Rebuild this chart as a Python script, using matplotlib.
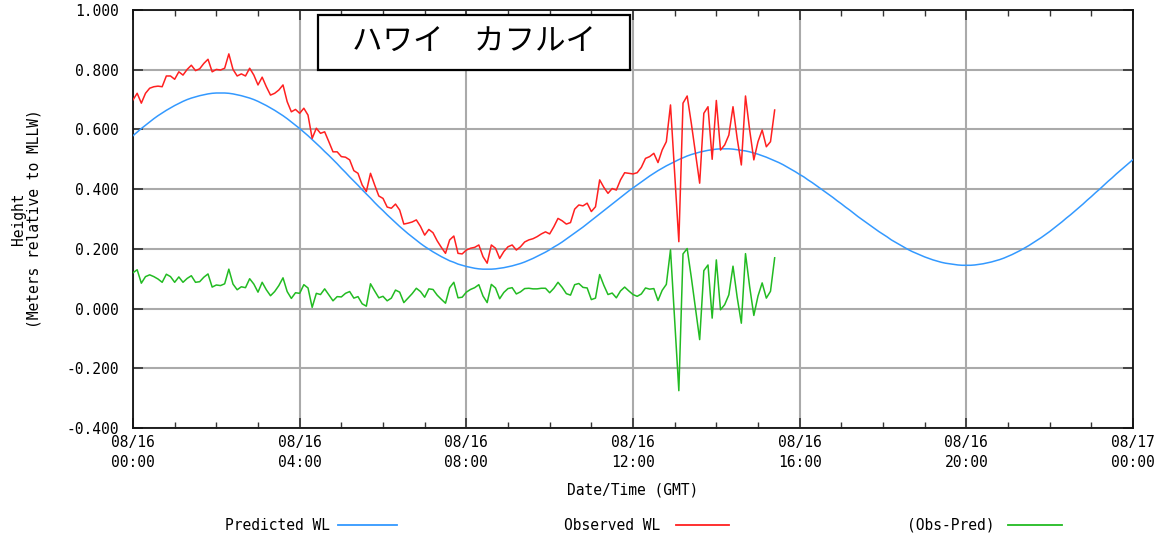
import matplotlib
matplotlib.use("Agg")
import matplotlib.pyplot as plt
import numpy as np
from matplotlib.lines import Line2D
from matplotlib.patches import Rectangle
from matplotlib.ticker import MultipleLocator, FormatStrFormatter

# 6-minute samples starting 08/16 00:00 GMT
step_h = 0.1

predicted = np.array([
    0.579, 0.591, 0.603, 0.614, 0.625, 0.636, 0.646, 0.655, 0.664, 0.672, 0.680,
    0.687, 0.694, 0.700, 0.705, 0.709, 0.713, 0.716, 0.719, 0.721, 0.722,
    0.722, 0.722, 0.721, 0.719, 0.716, 0.713, 0.709, 0.705, 0.700, 0.694,
    0.687, 0.680, 0.672, 0.664, 0.655, 0.646, 0.636, 0.625, 0.614, 0.603,
    0.591, 0.579, 0.566, 0.553, 0.540, 0.526, 0.513, 0.499, 0.485, 0.470,
    0.456, 0.441, 0.427, 0.413, 0.398, 0.384, 0.370, 0.355, 0.341, 0.328,
    0.314, 0.301, 0.288, 0.275, 0.263, 0.251, 0.240, 0.229, 0.218, 0.208,
    0.199, 0.190, 0.182, 0.174, 0.167, 0.160, 0.155, 0.149, 0.145, 0.141,
    0.138, 0.135, 0.133, 0.132, 0.132, 0.132, 0.133, 0.135, 0.137, 0.140,
    0.143, 0.147, 0.151, 0.156, 0.162, 0.168, 0.175, 0.182, 0.189, 0.197,
    0.206, 0.214, 0.223, 0.233, 0.243, 0.253, 0.263, 0.273, 0.284, 0.295,
    0.306, 0.317, 0.328, 0.339, 0.350, 0.361, 0.372, 0.383, 0.394, 0.404,
    0.414, 0.424, 0.434, 0.444, 0.453, 0.462, 0.470, 0.478, 0.485, 0.492,
    0.499, 0.505, 0.511, 0.516, 0.520, 0.524, 0.527, 0.530, 0.532, 0.534,
    0.535, 0.535, 0.535, 0.534, 0.532, 0.530, 0.528, 0.525, 0.521, 0.517,
    0.512, 0.507, 0.501, 0.495, 0.489, 0.482, 0.474, 0.466, 0.458, 0.449,
    0.441, 0.431, 0.422, 0.412, 0.402, 0.392, 0.382, 0.372, 0.361, 0.351,
    0.340, 0.330, 0.319, 0.308, 0.298, 0.288, 0.278, 0.268, 0.258, 0.249,
    0.240, 0.230, 0.222, 0.214, 0.206, 0.198, 0.191, 0.185, 0.179, 0.173,
    0.168, 0.163, 0.159, 0.155, 0.152, 0.150, 0.148, 0.146, 0.145, 0.145,
    0.145, 0.146, 0.148, 0.150, 0.153, 0.156, 0.160, 0.164, 0.169, 0.175,
    0.181, 0.188, 0.195, 0.203, 0.211, 0.220, 0.229, 0.238, 0.248, 0.258,
    0.269, 0.280, 0.291, 0.303, 0.314, 0.326, 0.338, 0.350, 0.363, 0.375,
    0.388, 0.400, 0.413, 0.426, 0.438, 0.451, 0.463, 0.475, 0.487, 0.499,
])

observed = np.array([
    0.699, 0.721, 0.688, 0.721, 0.738, 0.743, 0.745, 0.743, 0.779, 0.779,
    0.768, 0.793, 0.782, 0.801, 0.815, 0.797, 0.803, 0.821, 0.835, 0.793,
    0.801, 0.799, 0.805, 0.853, 0.801, 0.779, 0.786, 0.779, 0.805, 0.782,
    0.749, 0.775, 0.743, 0.715, 0.721, 0.732, 0.749, 0.693, 0.659, 0.667,
    0.654, 0.671, 0.648, 0.570, 0.604, 0.587, 0.592, 0.559, 0.525, 0.525,
    0.509, 0.507, 0.498, 0.462, 0.453, 0.414, 0.392, 0.453, 0.414, 0.377,
    0.369, 0.340, 0.336, 0.350, 0.330, 0.283, 0.286, 0.290, 0.297, 0.275,
    0.246, 0.265, 0.254, 0.227, 0.205, 0.185, 0.230, 0.243, 0.185, 0.183,
    0.196, 0.202, 0.205, 0.213, 0.174, 0.152, 0.213, 0.202, 0.168, 0.191,
    0.207, 0.213, 0.196, 0.207, 0.223, 0.230, 0.234, 0.241, 0.250, 0.257,
    0.250, 0.274, 0.302, 0.294, 0.283, 0.288, 0.333, 0.347, 0.344, 0.353,
    0.325, 0.341, 0.431, 0.406, 0.386, 0.402, 0.397, 0.431, 0.455, 0.453,
    0.451, 0.455, 0.473, 0.503, 0.509, 0.520, 0.489, 0.531, 0.559, 0.682,
    0.450, 0.224, 0.688, 0.712, 0.620, 0.520, 0.420, 0.654, 0.676, 0.500,
    0.697, 0.531, 0.548, 0.581, 0.676, 0.570, 0.481, 0.712, 0.598, 0.498,
    0.559, 0.598, 0.542, 0.559, 0.665,
])

residual = observed - predicted[:len(observed)]

t_pred = np.arange(len(predicted)) * step_h
t_obs = np.arange(len(observed)) * step_h

tick_hours = [0, 4, 8, 12, 16, 20, 24]
tick_labels = ["08/16\n00:00", "08/16\n04:00", "08/16\n08:00", "08/16\n12:00",
               "08/16\n16:00", "08/16\n20:00", "08/17\n00:00"]

series_names = ["Predicted WL", "Observed WL", "(Obs-Pred)"]
colors = ["#3399ff", "#ff2020", "#22bb22"]

mono = "DejaVu Sans Mono"
fs = 10.5

fig = plt.figure(figsize=(11.7, 5.4), dpi=100)
ax = fig.add_axes([133/1170, 1-428/540, 1000/1170, 418/540])

ax.plot(t_pred, predicted, color=colors[0], lw=1.1, zorder=3)
ax.plot(t_obs, observed, color=colors[1], lw=1.1, zorder=3)
ax.plot(t_obs, residual, color=colors[2], lw=1.1, zorder=3)

ax.set_xlim(0, 24)
ax.set_ylim(-0.4, 1.0)
ax.set_xticks(tick_hours)
ax.set_xticklabels(tick_labels, fontfamily=mono, fontsize=fs, linespacing=1.45)
ax.xaxis.set_minor_locator(MultipleLocator(1))
ax.yaxis.set_major_locator(MultipleLocator(0.2))
ax.yaxis.set_major_formatter(FormatStrFormatter('%.3f'))
for lab in ax.get_yticklabels():
    lab.set_fontfamily(mono)
    lab.set_fontsize(fs)

ax.grid(True, which='major', color='#aaaaaa', lw=1.5, zorder=1)
ax.tick_params(which='both', direction='in', top=True, right=True, color='#333333')
ax.tick_params(which='major', length=7, width=1.2)
ax.tick_params(axis='x', which='major', pad=5)
ax.tick_params(axis='y', which='major', pad=10)
ax.tick_params(which='minor', length=4, width=1)
for sp in ax.spines.values():
    sp.set_linewidth(1.3)
    sp.set_color('#111111')

# station title box
ax.add_patch(Rectangle((0.185, 0.8565), 0.312, 0.1315, transform=ax.transAxes,
                       facecolor='white', edgecolor='black', lw=1.6, zorder=5))
ax.text(0.341, 0.922, "ハワイ\u3000カフルイ", transform=ax.transAxes,
        ha='center', va='center', fontsize=22, zorder=6,
        fontfamily=['Noto Sans CJK JP', 'DejaVu Sans'])

fig.text(26/1170, 1-219/540, "Height\n(Meters relative to MLLW)", rotation=90,
         ha='center', va='center', multialignment='center', linespacing=1.05,
         fontfamily=mono, fontsize=fs)
fig.text(633/1170, 1-490/540, "Date/Time (GMT)", ha='center', va='center',
         fontfamily=mono, fontsize=fs)

# legend row: label then line sample
leg_y = 1 - 525/540
text_end = [330, 660, 995]
line_span = [(338, 397), (676, 729), (1008, 1062)]
for name, c, te, (x0, x1) in zip(series_names, colors, text_end, line_span):
    fig.text(te/1170, leg_y, name, ha='right', va='center',
             fontfamily=mono, fontsize=fs)
    fig.add_artist(Line2D([x0/1170, x1/1170], [leg_y, leg_y], color=c, lw=1.3,
                          transform=fig.transFigure))

fig.savefig("out.png", dpi=100)
